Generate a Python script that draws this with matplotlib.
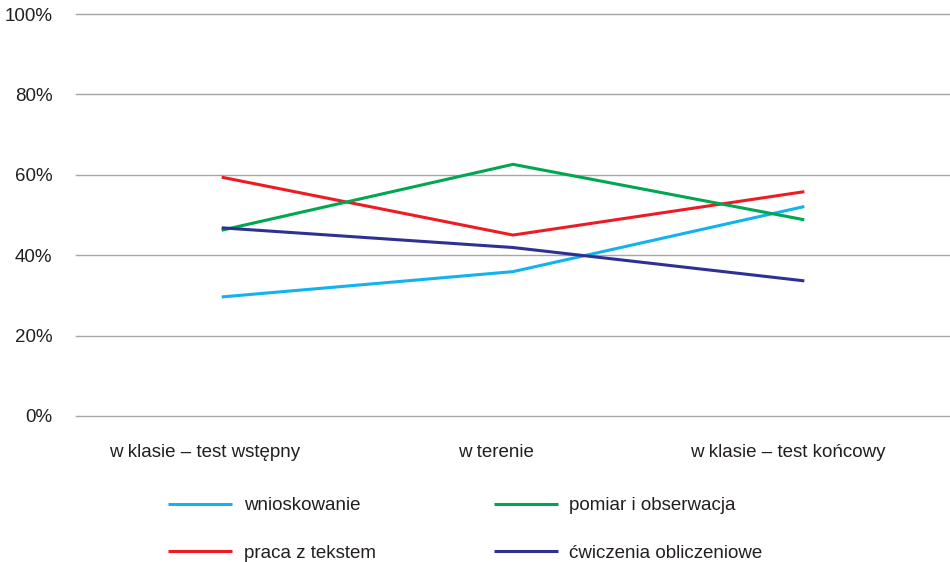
import matplotlib

matplotlib.use("Agg")
import matplotlib.pyplot as plt
import matplotlib.transforms as mtransforms
from matplotlib.ticker import PercentFormatter

plt.rcParams["font.family"] = ["Liberation Sans", "DejaVu Sans"]

categories = ["w klasie – test wstępny", "w terenie", "w klasie – test końcowy"]
wnioskowanie = [29.6, 35.9, 52.1]
pomiar = [46.2, 62.6, 48.8]
praca = [59.4, 45.0, 55.8]
cwiczenia = [46.8, 41.9, 33.6]
yticks = [0, 20, 40, 60, 80, 100]

series = [
    ("wnioskowanie", wnioskowanie, "#12b2ec"),
    ("praca z tekstem", praca, "#ed1c24"),
    ("pomiar i obserwacja", pomiar, "#00a651"),
    ("ćwiczenia obliczeniowe", cwiczenia, "#2e3192"),
]

fig = plt.figure(figsize=(9.5, 5.62), dpi=100)
ax = fig.add_axes([0.08, 0.26, 0.92, 0.715])

x = range(len(categories))
for name, vals, color in series:
    ax.plot(x, vals, color=color, lw=2.2, label=name, solid_capstyle="butt")

ax.set_xlim(-0.5, len(categories) - 0.5)
ax.set_ylim(0, 100)
ax.set_yticks(yticks)
ax.yaxis.set_major_formatter(PercentFormatter(decimals=0))
ax.set_xticks(list(x))
ax.set_xticklabels(categories)
ax.grid(axis="y", color="#a6a6a6", lw=1)
for gl in ax.get_ygridlines():
    gl.set_clip_on(False)
ax.set_axisbelow(True)
for s in ax.spines.values():
    s.set_visible(False)
ax.tick_params(axis="both", length=0, labelsize=13.5, colors="#231f20")
ax.tick_params(axis="y", pad=17)
ax.tick_params(axis="x", pad=20)

# category labels sit a bit left of the data points in the original
shift = mtransforms.ScaledTranslation(-17 / 100, 0, fig.dpi_scale_trans)
for lab in ax.get_xticklabels():
    lab.set_transform(lab.get_transform() + shift)

fig.legend(loc="center", bbox_to_anchor=(0.49, 0.058), ncol=2, frameon=False,
           fontsize=13.5, handlelength=3.4, handletextpad=0.62, columnspacing=6.3,
           labelspacing=1.62, labelcolor="#231f20")

fig.savefig("out.png", dpi=100)
